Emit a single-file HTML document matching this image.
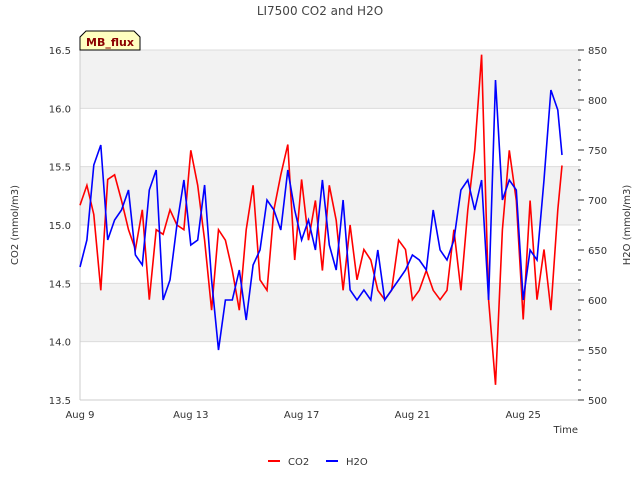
<!DOCTYPE html>
<html><head><meta charset="utf-8"><style>
body{margin:0;background:#fff;font-family:"Liberation Sans","DejaVu Sans",sans-serif}
svg text{font-family:"DejaVu Sans","Liberation Sans",sans-serif}
</style></head><body>
<svg id="chart" width="640" height="480" viewBox="0 0 640 480"></svg>
<script>
const days=[0,0.25,0.5,0.75,1,1.25,1.5,1.75,2,2.25,2.5,2.75,3,3.25,3.5,3.75,4,4.25,4.5,4.75,5,5.25,5.5,5.75,6,6.25,6.5,6.75,7,7.25,7.5,7.75,8,8.25,8.5,8.75,9,9.25,9.5,9.75,10,10.25,10.5,10.75,11,11.25,11.5,11.75,12,12.25,12.5,12.75,13,13.25,13.5,13.75,14,14.25,14.5,14.75,15,15.25,15.5,15.75,16,16.25,16.5,16.75,17,17.25,17.4];
const co2=[15.17,15.34,15.09,14.44,15.39,15.43,15.21,14.96,14.79,15.13,14.36,14.96,14.92,15.13,15.0,14.96,15.64,15.34,14.87,14.27,14.96,14.87,14.61,14.27,14.96,15.34,14.53,14.44,15.13,15.43,15.69,14.70,15.39,14.87,15.21,14.61,15.34,15.04,14.44,15.0,14.53,14.79,14.70,14.44,14.36,14.44,14.87,14.79,14.36,14.44,14.61,14.44,14.36,14.44,14.96,14.44,15.13,15.64,16.46,14.36,13.63,14.96,15.64,15.21,14.19,15.21,14.36,14.79,14.27,15.13,15.51];
const h2o=[633,660,735,755,660,680,690,710,645,635,710,730,600,620,675,720,655,660,715,620,550,600,600,630,580,635,650,700,690,670,730,690,660,680,650,720,655,630,700,610,600,610,600,650,600,610,620,630,645,640,630,690,650,640,660,710,720,690,720,600,820,700,720,710,600,650,640,720,810,790,745];
const xTickDays=[0,4,8,12,16];
const xTickLabels=["Aug 9","Aug 13","Aug 17","Aug 21","Aug 25"];
const yLeftTicks=[13.5,14.0,14.5,15.0,15.5,16.0,16.5];
const yRightTicks=[500,550,600,650,700,750,800,850];

const L=80,R=580,T=50,B=400;
const xs=d=>L+d*27.7;
const yl=v=>B-(v-13.5)/3*(B-T);
const yr=v=>B-(v-500)/350*(B-T);
const svg=document.getElementById('chart');
const NS='http://www.w3.org/2000/svg';
function mk(tag,attrs,parent){const e=document.createElementNS(NS,tag);for(const k in attrs)e.setAttribute(k,attrs[k]);(parent||svg).appendChild(e);return e;}

// plot bg and bands
const bg=mk('rect',{x:L,y:T,width:R-L,height:B-T,fill:'#fff'});


for(let i=0;i<yLeftTicks.length-1;i++){
  if(i%2===1){
    const r=mk('rect',{x:L,y:yl(yLeftTicks[i+1]),width:R-L,height:yl(yLeftTicks[i])-yl(yLeftTicks[i+1]),fill:'#f2f2f2'});
    
    
  }
}
yLeftTicks.forEach(v=>{
  const g=mk('line',{x1:L,x2:R,y1:yl(v),y2:yl(v),stroke:'#dcdcdc','stroke-width':1});
  
  
  const t=mk('text',{x:L-9,y:yl(v)+4,'text-anchor':'end','font-size':10,fill:'#333'});
  t.textContent=v.toFixed(1);
  
  
});
mk('line',{x1:L,x2:L,y1:T,y2:B,stroke:'#ccc'});
mk('line',{x1:L,x2:R,y1:B,y2:B,stroke:'#ccc'});
// right ticks
for(let v=500;v<=850;v+=10){
  const tk=mk('line',{x1:R-2,x2:R+(v%50===0?3:0)+1,y1:yr(v),y2:yr(v),stroke:'#333','stroke-width':1});
  
  
}
yRightTicks.forEach(v=>{
  const t=mk('text',{x:R+8,y:yr(v)+4,'font-size':10,fill:'#333'});
  t.textContent=v;
  
  
});
xTickDays.forEach((d,i)=>{
  const t=mk('text',{x:xs(d),y:B+18,'text-anchor':'middle','font-size':10,fill:'#333'});
  t.textContent=xTickLabels[i];
  
  
});
// series
function path(arr,yf){return arr.map((v,i)=>(i?'L':'M')+xs(days[i]).toFixed(1)+','+yf(v).toFixed(1)).join(' ');}
const pr=mk('path',{d:path(co2,yl),fill:'none',stroke:'#ff0000','stroke-width':1.6});


const pb=mk('path',{d:path(h2o,yr),fill:'none',stroke:'#0000ff','stroke-width':1.6});


</script>
<svg style="position:absolute;left:0;top:0" width="640" height="480">
<text x="320" y="15" text-anchor="middle" font-size="12" fill="#444">LI7500 CO2 and H2O</text>
<text x="578" y="433" text-anchor="end" font-size="10" fill="#333">Time</text>
<text transform="translate(18,225) rotate(-90)" text-anchor="middle" font-size="10" fill="#333">CO2 (mmol/m3)</text>
<text transform="translate(630,225) rotate(-90)" text-anchor="middle" font-size="10" fill="#333">H2O (mmol/m3)</text>
<path d="M80,50 L80,37 L86,31 L134,31 L140,37 L140,50 Z" fill="#ffffc0" stroke="#000"/>
<text x="110" y="46" text-anchor="middle" font-size="11" font-weight="bold" fill="#8b0000">MB_flux</text>
<g>
<line x1="268" x2="280" y1="461" y2="461" stroke="#f00" stroke-width="2"/>
<text x="288" y="465" font-size="10" fill="#333">CO2</text>
<line x1="326" x2="338" y1="461" y2="461" stroke="#00f" stroke-width="2"/>
<text x="346" y="465" font-size="10" fill="#333">H2O</text>
</g>
</svg>
</body></html>
